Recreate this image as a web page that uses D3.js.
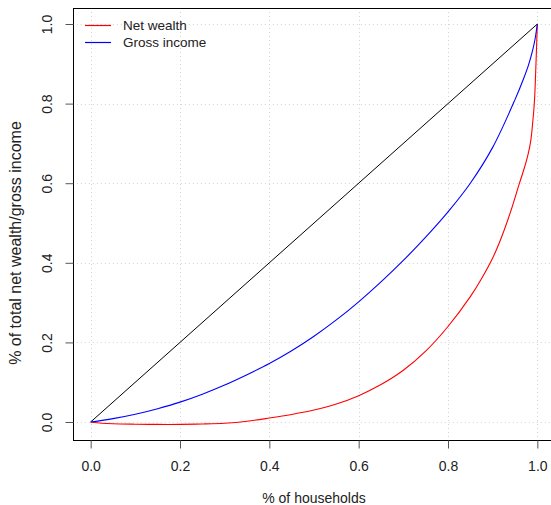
<!DOCTYPE html>
<html>
<head>
<meta charset="utf-8">
<script src="https://cdn.jsdelivr.net/npm/d3@7"></script>
<style>
  html, body { margin: 0; padding: 0; background: #fff; }
  svg { display: block; font-family: "Liberation Sans", Arial, Helvetica, sans-serif; }
</style>
</head>
<body>
<svg id="chart" width="551" height="505"></svg>
<script>
// ---- data ----
const seriesNames = ["Net wealth", "Gross income"];
const seriesColors = ["#FF0000", "#0000FF"];

const wealthX = [0, 0.025, 0.05, 0.1, 0.15, 0.2, 0.25, 0.3, 0.35, 0.4, 0.45, 0.5, 0.55, 0.6, 0.65, 0.7, 0.75, 0.8, 0.85, 0.875, 0.9, 0.92, 0.94, 0.96, 0.97, 0.976, 0.98, 0.984, 0.987, 0.99, 0.992, 0.994, 0.996, 0.998, 1.0];
const wealthY = [0, -0.003, -0.0045, -0.0055, -0.006, -0.006, -0.005, -0.003, 0.002, 0.010, 0.019, 0.030, 0.045, 0.066, 0.094, 0.130, 0.178, 0.240, 0.315, 0.360, 0.412, 0.465, 0.528, 0.600, 0.635, 0.658, 0.676, 0.698, 0.722, 0.757, 0.782, 0.815, 0.870, 0.934, 1.0];

const incomeX = [0, 0.05, 0.1, 0.15, 0.2, 0.25, 0.3, 0.35, 0.4, 0.45, 0.5, 0.55, 0.6, 0.65, 0.7, 0.75, 0.8, 0.85, 0.9, 0.95, 0.97, 0.98, 0.99, 0.995, 1.0];
const incomeY = [0, 0.0085, 0.0195, 0.0335, 0.050, 0.070, 0.093, 0.119, 0.147, 0.179, 0.2155, 0.2565, 0.302, 0.352, 0.406, 0.4645, 0.528, 0.600, 0.690, 0.810, 0.865, 0.896, 0.936, 0.963, 1.0];

const equalityX = [0, 1];
const equalityY = [0, 1];

const xTicks = [0, 0.2, 0.4, 0.6, 0.8, 1.0];
const yTicks = [0, 0.2, 0.4, 0.6, 0.8, 1.0];
const xTitle = "% of households";
const yTitle = "% of total net wealth/gross income";

// ---- layout ----
const svg = d3.select("#chart");
const pLeft = 72.8, pRight = 555.2, pTop = 8, pBottom = 440;
const x = d3.scaleLinear().domain([-0.04, 1.04]).range([pLeft, pRight]);
const y = d3.scaleLinear().domain([-0.0452, 1.0402]).range([pBottom, pTop]);

// grid
const grid = svg.append("g");
xTicks.forEach(t => {
  grid.append("line")
    .attr("x1", Math.round(x(t)) + 0.5).attr("x2", Math.round(x(t)) + 0.5)
    .attr("y1", pTop).attr("y2", pBottom)
    .attr("stroke", "#D3D3D3").attr("stroke-width", 1).attr("stroke-dasharray", "1,3");
});
yTicks.forEach(t => {
  grid.append("line")
    .attr("y1", Math.round(y(t)) + 0.5).attr("y2", Math.round(y(t)) + 0.5)
    .attr("x1", pLeft).attr("x2", pRight)
    .attr("stroke", "#D3D3D3").attr("stroke-width", 1).attr("stroke-dasharray", "1,3");
});

// lines
const line = d3.line().x(d => x(d[0])).y(d => y(d[1])).curve(d3.curveCatmullRom.alpha(0.5));
svg.append("path").datum(d3.zip(equalityX, equalityY))
  .attr("d", line).attr("fill", "none").attr("stroke", "#000").attr("stroke-width", 1);
svg.append("path").datum(d3.zip(wealthX, wealthY))
  .attr("d", line).attr("fill", "none").style("stroke", seriesColors[0]).attr("stroke-width", 1.1);
svg.append("path").datum(d3.zip(incomeX, incomeY))
  .attr("d", line).attr("fill", "none").style("stroke", seriesColors[1]).attr("stroke-width", 1.1);

// box
svg.append("rect")
  .attr("x", Math.round(pLeft) + 0.5).attr("y", pTop + 0.5)
  .attr("width", pRight - pLeft).attr("height", pBottom - pTop)
  .attr("fill", "none").attr("stroke", "#000").attr("stroke-width", 1);

// axes
const xAxis = d3.axisBottom(x).tickValues(xTicks).tickFormat(d3.format(".1f")).tickSize(8).tickPadding(13);
const gx = svg.append("g").attr("transform", `translate(0,${pBottom + 0.5})`).call(xAxis);
gx.select(".domain").remove();
gx.selectAll(".tick line").attr("stroke", "#555");
gx.selectAll(".tick text").attr("font-size", 14).attr("fill", "#222").attr("font-family", "Liberation Sans, Arial, sans-serif");

const yAxis = d3.axisLeft(y).tickValues(yTicks).tickFormat(d3.format(".1f")).tickSize(8).tickPadding(0);
const gy = svg.append("g").attr("transform", `translate(${Math.round(pLeft) + 0.5},0)`).call(yAxis);
gy.select(".domain").remove();
gy.selectAll(".tick line").attr("stroke", "#555");
gy.selectAll(".tick text")
  .attr("font-size", 14).attr("fill", "#222").attr("font-family", "Liberation Sans, Arial, sans-serif")
  .attr("x", null).attr("dy", null)
  .attr("text-anchor", "middle")
  .attr("transform", "translate(-26,0) rotate(-90)")
  .attr("y", 0).attr("dy", "0.35em");

// titles
svg.append("text").attr("x", (pLeft + pRight) / 2).attr("y", 502.5)
  .attr("text-anchor", "middle").attr("font-size", 14).attr("fill", "#222").text(xTitle);
svg.append("text").attr("transform", `translate(20.5,243) rotate(-90)`)
  .attr("text-anchor", "middle").attr("font-size", 16).attr("fill", "#222").text(yTitle);

// legend
const leg = svg.append("g");
seriesNames.forEach((n, i) => {
  const ly = 25 + i * 17;
  leg.append("line").attr("x1", 85).attr("x2", 111).attr("y1", ly + 0.5).attr("y2", ly + 0.5)
    .style("stroke", seriesColors[i]).attr("stroke-width", 1.2);
  leg.append("text").attr("x", 123).attr("y", ly).attr("dy", "0.35em")
    .attr("font-size", 13.5).attr("fill", "#222").text(n);
});
</script>
</body>
</html>
